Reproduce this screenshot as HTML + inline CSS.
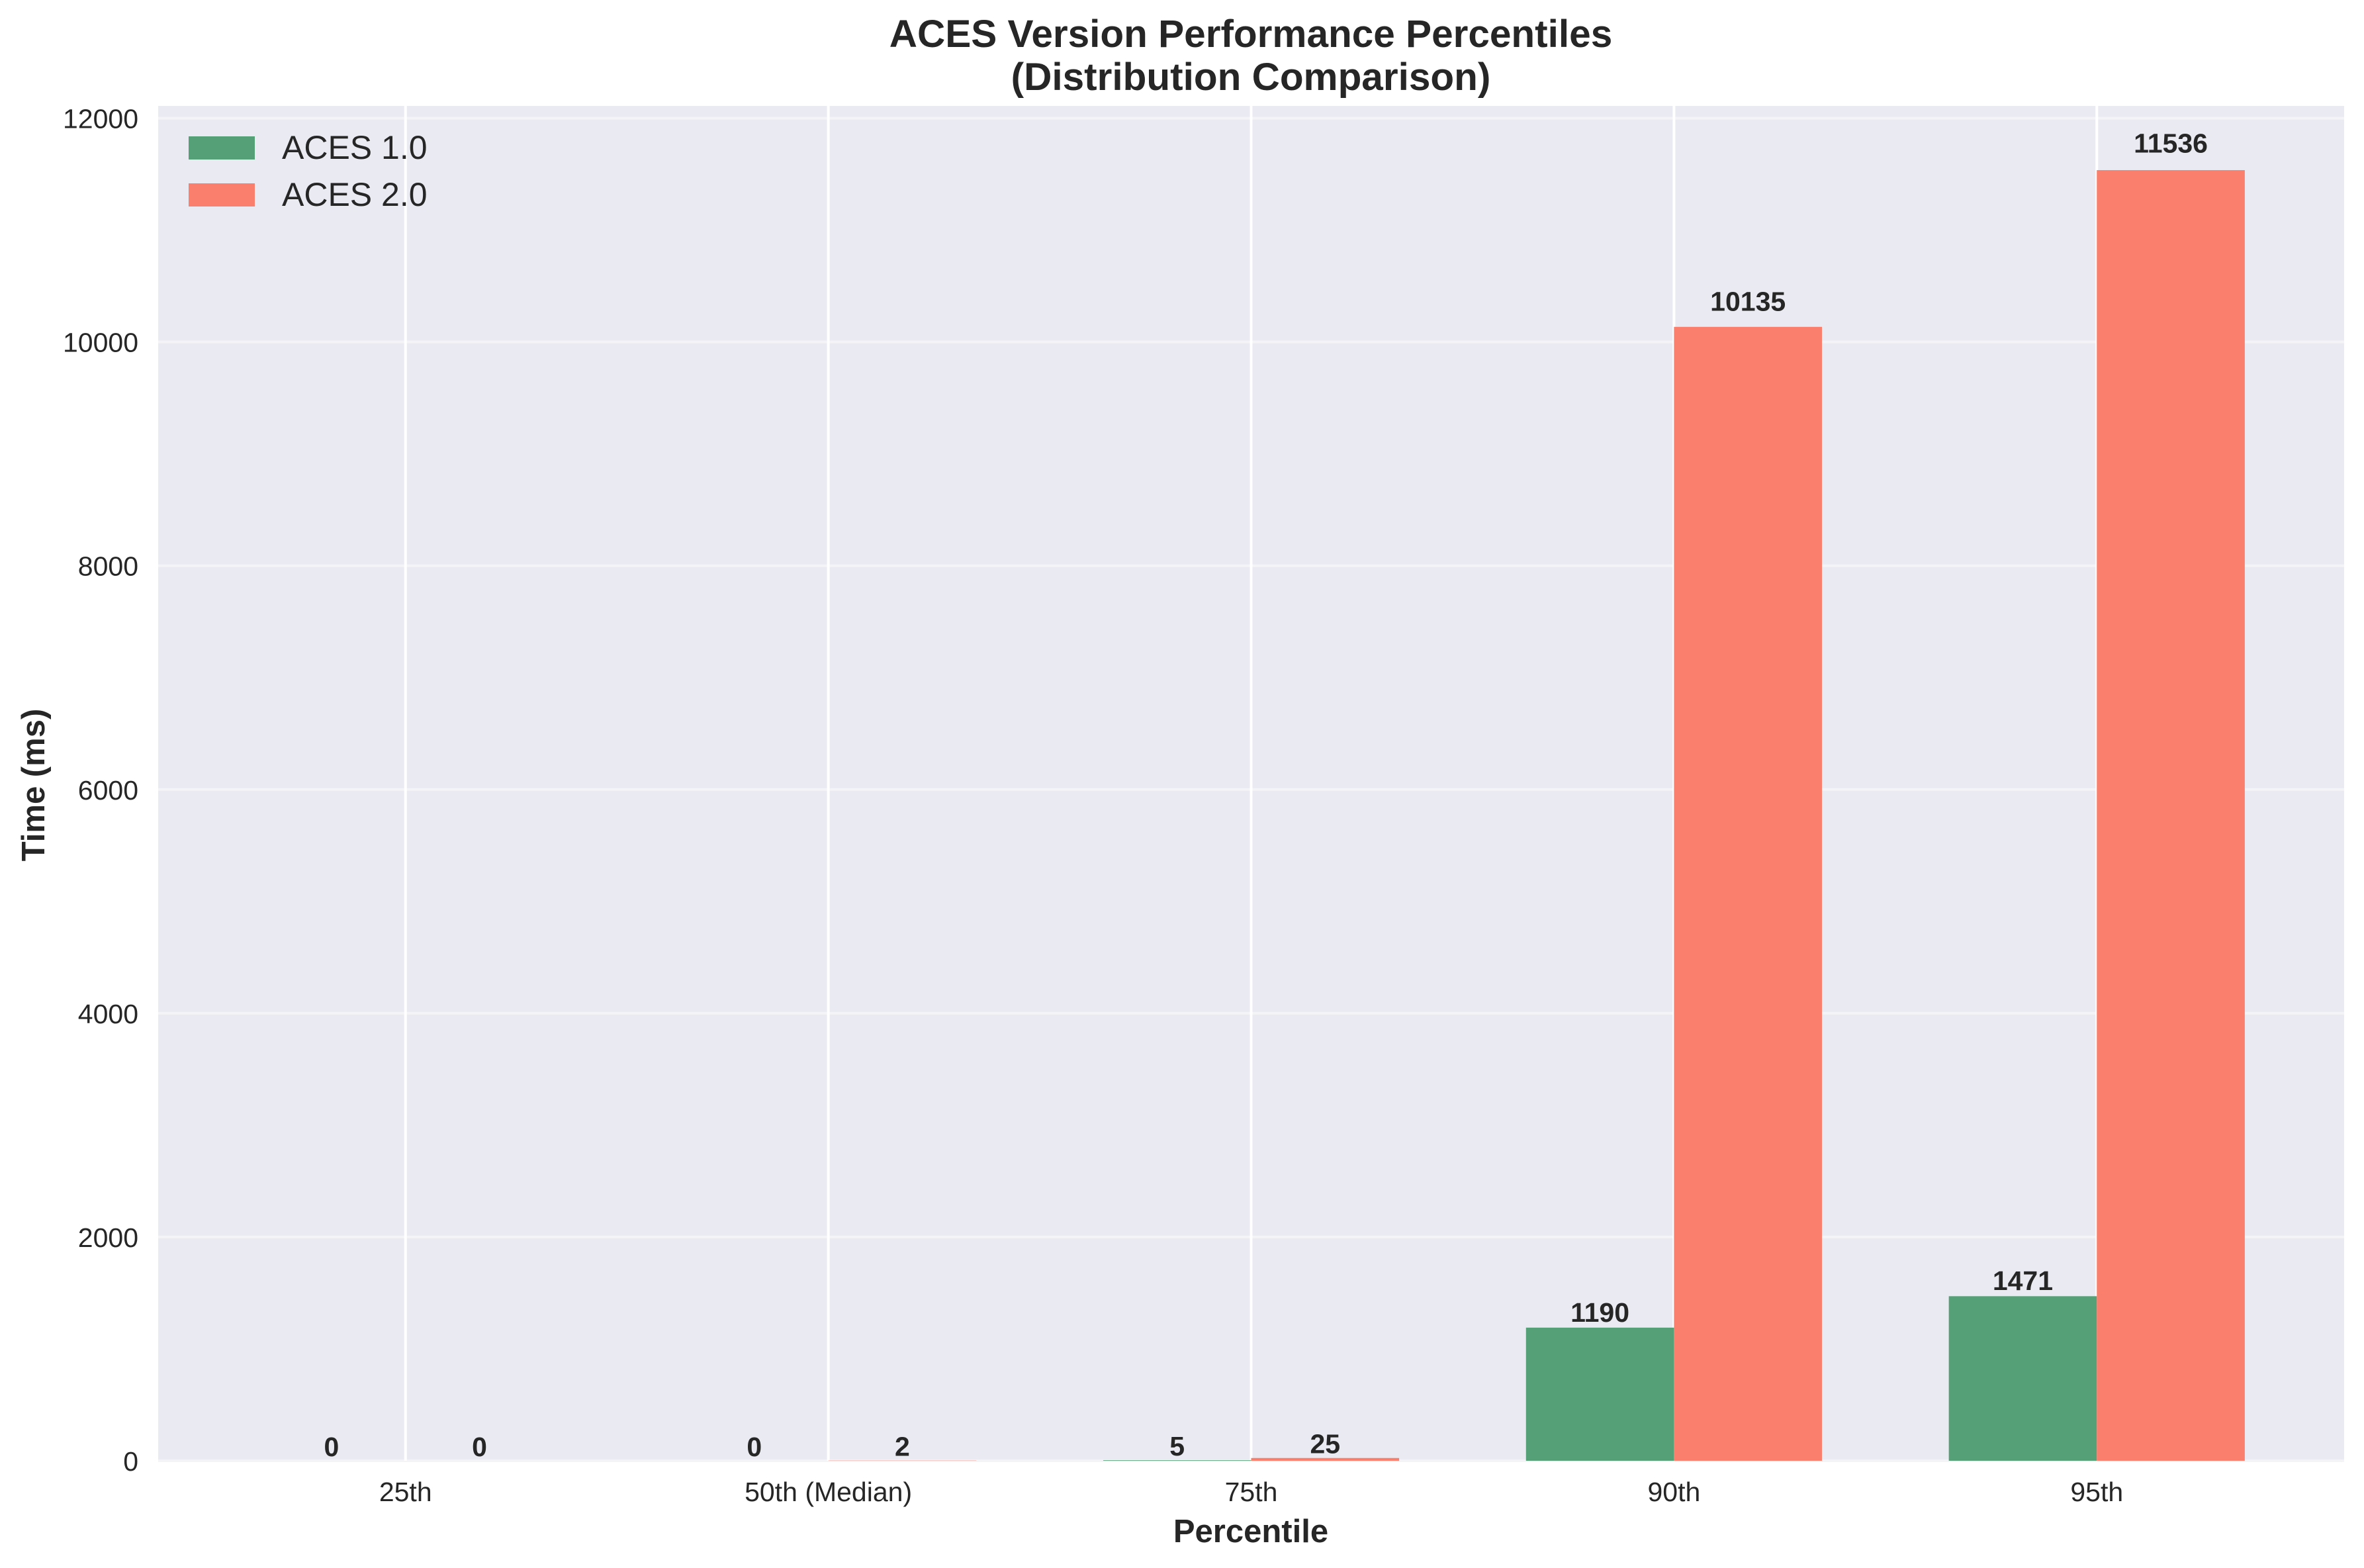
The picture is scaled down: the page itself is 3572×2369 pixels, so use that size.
<!DOCTYPE html>
<html><head><meta charset="utf-8"><style>
html,body{margin:0;padding:0;background:#fff;}
svg{display:block;font-family:"Liberation Sans",Arial,sans-serif;}
</style></head><body>
<svg id="chart" width="3572" height="2369" viewBox="0 0 3572 2369" xmlns="http://www.w3.org/2000/svg">
<rect x="0" y="0" width="3572" height="2369" fill="#ffffff"/>
<rect x="239" y="160" width="3303" height="2047" fill="#eaeaf2"/>
<g id="grid"></g>
<g id="bars"></g>
<g id="labels"></g>
<text x="1890" y="71" font-size="58.5" font-weight="bold" fill="#262626" text-anchor="middle">ACES Version Performance Percentiles</text>
<text x="1890" y="136" font-size="58.5" font-weight="bold" fill="#262626" text-anchor="middle">(Distribution Comparison)</text>
<text x="1890" y="2330" font-size="49" font-weight="bold" fill="#262626" text-anchor="middle">Percentile</text>
<text transform="translate(67,1186) rotate(-90)" font-size="49" font-weight="bold" fill="#262626" text-anchor="middle">Time (ms)</text>
<g>
<rect x="285" y="206" width="100" height="35" fill="#55a077"/>
<text x="426" y="240" font-size="50" fill="#262626">ACES 1.0</text>
<rect x="285" y="277" width="100" height="35" fill="#fb7f6d"/>
<text x="426" y="311" font-size="50" fill="#262626">ACES 2.0</text>
</g>
</svg>
<script>
const categories = ["25th","50th (Median)","75th","90th","95th"];
const aces1 = [0, 0, 5, 1190, 1471];
const aces2 = [0, 2, 25, 10135, 11536];
const yTicks = [0, 2000, 4000, 6000, 8000, 10000, 12000];

const NS = "http://www.w3.org/2000/svg";
const plotL = 239, plotR = 3542, plotT = 160, plotB = 2207;
const xMin = -0.585, xMax = 4.585, yMin = 0, yMax = 12110;
function xs(v){ return plotL + (v - xMin) / (xMax - xMin) * (plotR - plotL); }
function ys(v){ return plotB - (v - yMin) / (yMax - yMin) * (plotB - plotT); }
function mk(tag, attrs, parent){
  const e = document.createElementNS(NS, tag);
  for (const k in attrs) e.setAttribute(k, attrs[k]);
  parent.appendChild(e);
  return e;
}
const grid = document.getElementById('grid');
const bars = document.getElementById('bars');
const labels = document.getElementById('labels');
const svg = document.getElementById('chart');

yTicks.forEach(t => {
  const y = ys(t);
  const g = mk('line', {x1: plotL, x2: plotR, y1: y, y2: y, stroke: '#f4f4f7', 'stroke-width': 4}, grid);
  
  
  const tl = mk('text', {x: 209, y: y + 15, 'font-size': 41, fill: '#262626', 'text-anchor': 'end'}, svg);
  tl.textContent = String(t);
  
  
});

const bw = 0.35;
categories.forEach((c, i) => {
  const cx = xs(i);
  const vg = mk('line', {x1: cx, x2: cx, y1: plotT, y2: plotB, stroke: '#ffffff', 'stroke-width': 4}, grid);
  
  
  const xl = mk('text', {x: cx, y: 2268, 'font-size': 41, fill: '#262626', 'text-anchor': 'middle'}, svg);
  xl.textContent = c;
  
  

  [[aces1, -bw/2, '#55a077', 'aces-1'], [aces2, bw/2, '#fb7f6d', 'aces-2']].forEach(s => {
    const v = s[0][i];
    const x0 = xs(i + s[1] - bw/2), x1 = xs(i + s[1] + bw/2);
    const yt = ys(v);
    const r = mk('rect', {x: x0, y: yt, width: x1 - x0, height: Math.max(0, plotB - yt), fill: s[2]}, bars);
    
    
    const t = mk('text', {x: (x0 + x1) / 2, y: ys(v * 1.01) - 7, 'font-size': 41, 'font-weight': 'bold', fill: '#262626', 'text-anchor': 'middle'}, labels);
    t.textContent = String(v);
    
    
  });
});
</script>
</body></html>
